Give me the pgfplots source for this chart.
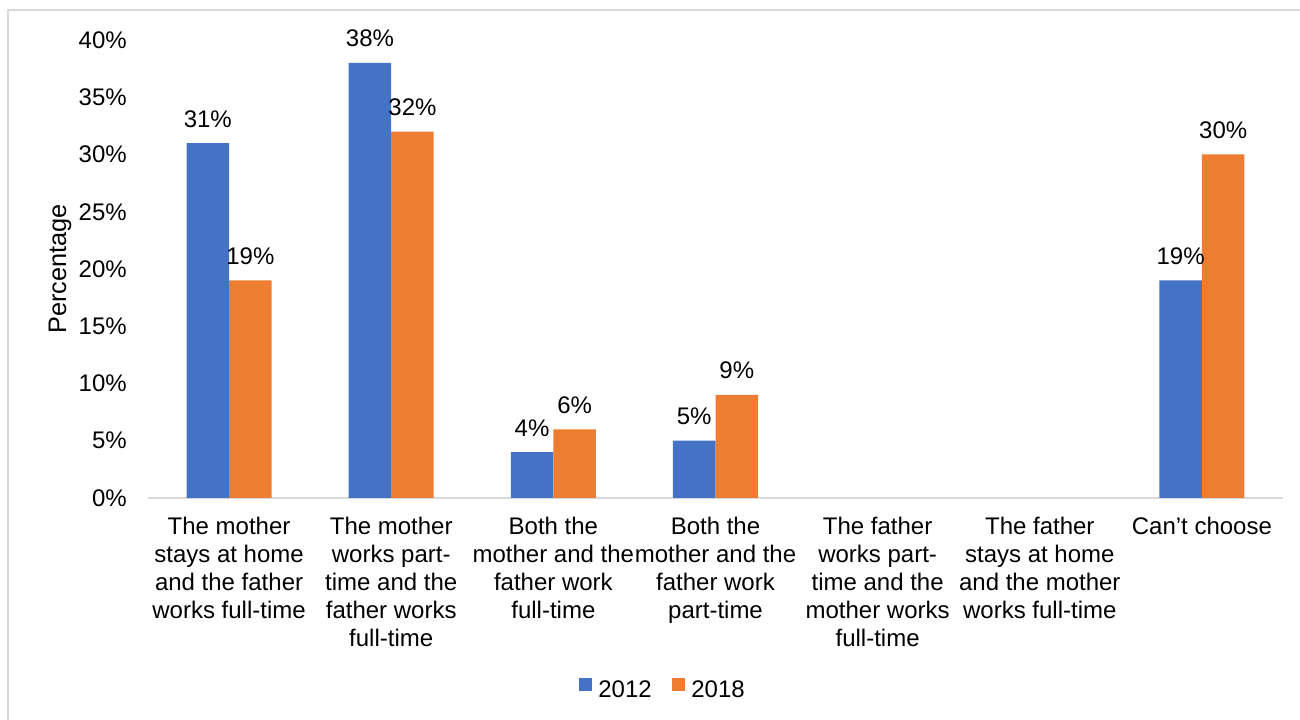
\documentclass[border=0pt]{standalone}
\usepackage{fontspec}
\setmainfont{Liberation Sans}
\usepackage{pgfplots}
\pgfplotsset{compat=1.18}
\definecolor{cblue}{HTML}{4472C4}
\definecolor{corange}{HTML}{ED7D31}
\definecolor{cframe}{HTML}{D9D9D9}
\begin{document}
\begin{tikzpicture}[font=\fontsize{18}{21}\selectfont]
\useasboundingbox (0,0) rectangle (975pt,540pt);
\draw[cframe, line width=1.5pt] (6pt,0) -- (6pt,532.5pt) -- (980pt,532.5pt);
\begin{axis}[
  at={(111pt,166.5pt)}, anchor=south west,
  scale only axis, width=851.25pt, height=343.5pt,
  ybar=0pt, bar width=31.9pt,
  xmin=-0.5, xmax=6.5, ymin=0, ymax=40,
  axis x line=bottom, axis y line=left,
  x axis line style={-, cframe, line width=1.5pt},
  y axis line style={draw=none},
  major tick length=0pt,
  /pgf/number format/assume math mode=true,
  xtick={0,1,2,3,4,5,6},
  xticklabels={
    {The mother\\stays at home\\and the father\\works full-time},
    {The mother\\works part-\\time and the\\father works\\full-time},
    {Both the\\mother and the\\father work\\full-time},
    {Both the\\mother and the\\father work\\part-time},
    {The father\\works part-\\time and the\\mother works\\full-time},
    {The father\\stays at home\\and the mother\\works full-time},
    {Can’t choose}},
  xticklabel style={align=center, anchor=north, inner sep=0pt, yshift=-14pt},
  ytick={0,5,10,15,20,25,30,35,40},
  yticklabels={0\%,5\%,10\%,15\%,20\%,25\%,30\%,35\%,40\%},
  yticklabel style={anchor=east, inner sep=0pt, xshift=-15.75pt},
  ylabel={Percentage},
  ylabel style={at={(axis description cs:-0.0774,0.5)}, anchor=center, font=\fontsize{19}{22}\selectfont},
  nodes near coords={\pgfmathprintnumber{\pgfplotspointmeta}\%},
  every node near coord/.append style={anchor=base, inner sep=0pt, yshift=12pt, text=black},
  legend style={at={(0.4538,-0.419)}, anchor=center, draw=none, legend columns=2,
    /tikz/every odd column/.append style={column sep=3pt},
    /tikz/every even column/.append style={column sep=13pt},
    font=\fontsize{18}{21}\selectfont},
  legend image code/.code={\fill[#1] (0pt,-1pt) rectangle (9.75pt,8.75pt);},
  clip=false,
]
\addplot[fill=cblue, draw=none] coordinates {(0,31) (1,38) (2,4) (3,5) (6,19)};
\addplot[fill=corange, draw=none] coordinates {(0,19) (1,32) (2,6) (3,9) (6,30)};
\legend{2012,2018}
\end{axis}
\end{tikzpicture}
\end{document}
